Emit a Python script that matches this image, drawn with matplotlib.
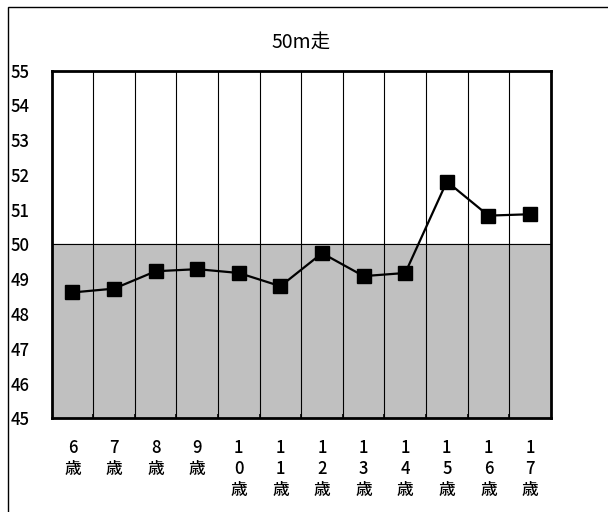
import matplotlib.pyplot as plt
import numpy as np
from matplotlib.patches import Rectangle

plt.rcParams['font.family'] = ['Noto Sans CJK JP', 'DejaVu Sans']

# データ
ages = ['6歳', '7歳', '8歳', '9歳', '10歳', '11歳', '12歳', '13歳', '14歳', '15歳', '16歳', '17歳']
values = [48.62, 48.73, 49.23, 49.29, 49.18, 48.80, 49.75, 49.09, 49.18, 51.81, 50.83, 50.87]
yticks = [45, 46, 47, 48, 49, 50, 51, 52, 53, 54, 55]
title = '50m走'

fig = plt.figure(figsize=(6.08, 5.12), dpi=100)
ax = fig.add_axes([0.085, 0.183, 0.821, 0.679])

x = np.arange(len(ages))
ax.set_xlim(-0.5, len(ages) - 0.5)
ax.set_ylim(45, 55)

# 背景（50以下は灰色）
ax.axhspan(45, 50, color='#c0c0c0', zorder=0)
ax.axhline(50, color='black', lw=0.8, zorder=1)

# 縦の区切り線
for b in np.arange(0.5, len(ages) - 0.5, 1):
    ax.axvline(b, color='black', lw=0.8, zorder=1)

ax.plot(x, values, color='black', lw=1.6, marker='s', markersize=10, zorder=3)

# 縦書きラベル
ax.set_xticks(x)
ax.set_xticklabels(['\n'.join(a) for a in ages], fontsize=12, linespacing=1.2, va='top',
                   fontweight='medium')
ax.tick_params(axis='x', length=0, pad=15)
ax.set_xticks(np.arange(0.5, len(ages) - 0.5, 1), minor=True)
ax.tick_params(axis='x', which='minor', direction='in', length=3, width=1.2)

ax.set_yticks(yticks)
ax.set_yticklabels([str(t) for t in yticks], fontsize=12, ha='left', fontweight='medium')
ax.tick_params(axis='y', length=0, pad=29.5)

for s in ax.spines.values():
    s.set_linewidth(2)

fig.text(0.495, 0.918, title, fontsize=14, ha='center', va='center')

# 外枠（右と下は画像の外）
fig.patches.append(Rectangle((8 / 608, -0.05), 1.1, 1.05 - 7 / 512, transform=fig.transFigure,
                             fill=False, edgecolor='black', lw=1))

fig.savefig('out.png', dpi=100)
